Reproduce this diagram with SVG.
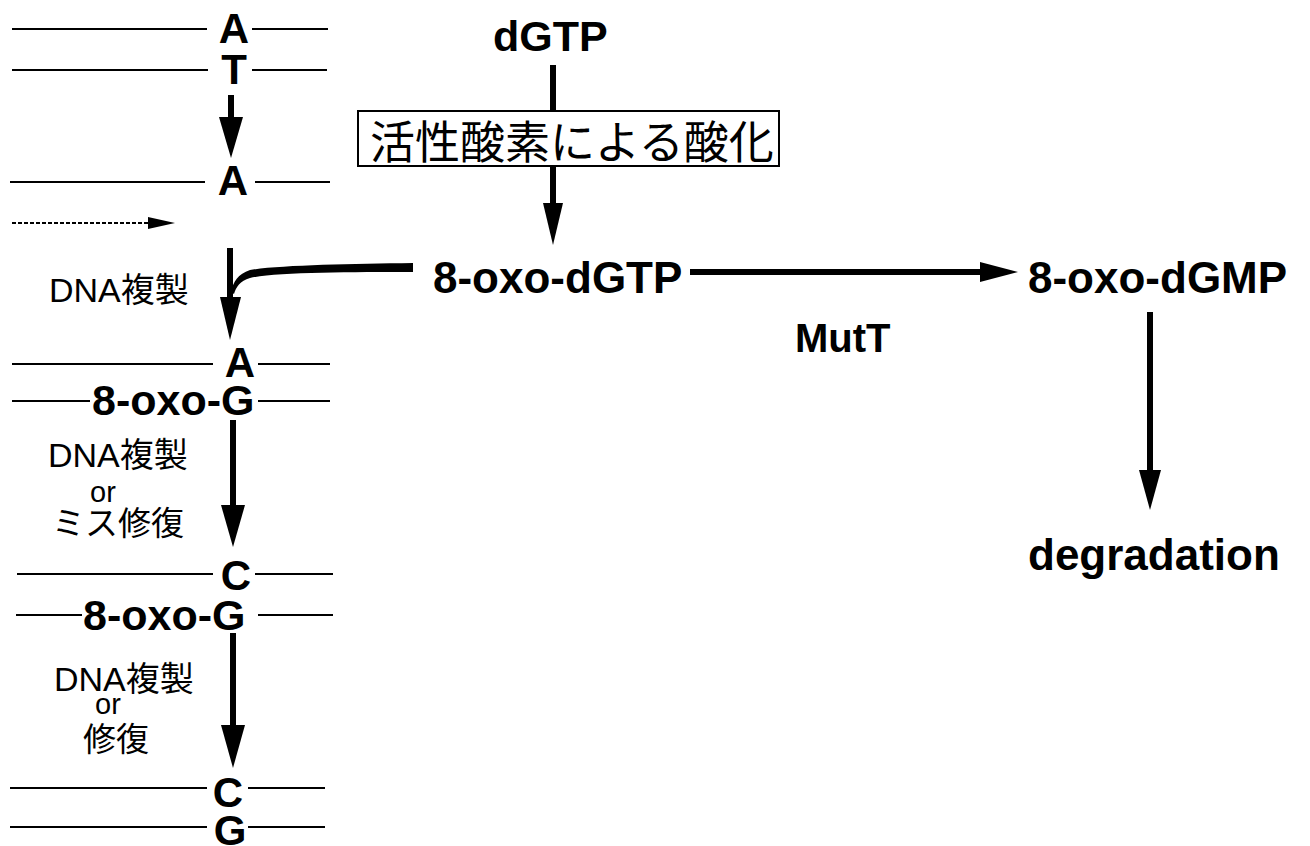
<svg xmlns="http://www.w3.org/2000/svg" width="1310" height="846" viewBox="0 0 1310 846">
<style>
.b{font-family:"Liberation Sans",Arial,"Noto Sans CJK JP",sans-serif;font-weight:bold;fill:#000}
.r{font-family:"Liberation Sans",Arial,"Noto Sans CJK JP",sans-serif;fill:#000}
.j{font-family:"Noto Sans CJK JP","Liberation Sans",sans-serif;fill:#000}
.s{stroke:#000;stroke-width:2;fill:none}
.sh{stroke:#000;stroke-width:6;fill:none}
.hd{fill:#000}
</style>
<rect width="1310" height="846" fill="#fff"/>
<g id="strands" class="s">
<path d="M12 29H207M252 29H328"/>
<path d="M12 70H208M252 70H327"/>
<path d="M10 182H205M255 182H330"/>
<path d="M12 364H213M258 364H330"/>
<path d="M12 401H90M258 401H330"/>
<path d="M17 574H213M255 574H333"/>
<path d="M16 615H82M258 615H333"/>
<path d="M10 788H207M248 788H325"/>
<path d="M10 827H207M248 827H325"/>
</g>
<g id="pair1">
<text class="b" x="234" y="43" font-size="42" text-anchor="middle">A</text>
<text class="b" x="234" y="84" font-size="42" text-anchor="middle">T</text>
</g>
<g id="pair2">
<text class="b" x="233" y="195" font-size="42" text-anchor="middle">A</text>
</g>
<g id="pair3">
<text class="b" x="240" y="377" font-size="42" text-anchor="middle">A</text>
<text class="b" x="92" y="415" font-size="43">8-oxo-G</text>
</g>
<g id="pair4">
<text class="b" x="236" y="590" font-size="42" text-anchor="middle">C</text>
<text class="b" x="83" y="630" font-size="43">8-oxo-G</text>
</g>
<g id="pair5">
<text class="b" x="228" y="807" font-size="42" text-anchor="middle">C</text>
<text class="b" x="230" y="845" font-size="42" text-anchor="middle">G</text>
</g>
<g id="label1">
<text class="r" x="49" y="302" font-size="34">DNA<tspan class="j">複製</tspan></text>
</g>
<g id="label2">
<text class="r" x="48" y="467" font-size="34">DNA<tspan class="j">複製</tspan></text>
<text class="r" x="90" y="502" font-size="29">or</text>
<text class="j" x="52" y="535" font-size="33">ミス修復</text>
</g>
<g id="label3">
<text class="r" x="54" y="691" font-size="34">DNA<tspan class="j">複製</tspan></text>
<text class="r" x="95" y="714" font-size="29">or</text>
<text class="j" x="83" y="751" font-size="33">修復</text>
</g>
<g id="connectors">
<path class="sh" d="M231 95V118" stroke-width="5"/>
<polygon class="hd" points="219,117 243,117 231,158"/>
<path class="sh" d="M230 248V298"/>
<polygon class="hd" points="220,297 241,297 230,340"/>
<path class="sh" d="M233 420V506"/>
<polygon class="hd" points="221,505 245,505 233,547"/>
<path class="sh" d="M233 633V726"/>
<polygon class="hd" points="221,725 245,725 233,768"/>
<path d="M12 223H150" stroke="#000" stroke-width="2" stroke-dasharray="4 2" fill="none"/>
<polygon class="hd" points="148,217 175,223 148,229"/>
<path class="hd" d="M413 263L413 272C350 272 275 272 250 278C240 281 236 287 234 294L231 292C233 282 238 274 250 270C280 265 350 264 413 263Z"/>
<path class="sh" d="M553 65V204"/>
<polygon class="hd" points="543,203 563,203 553,245"/>
<path class="sh" d="M690 272H981"/>
<polygon class="hd" points="980,262 1018,272 980,282"/>
<path class="sh" d="M1150 312V471" stroke-width="7"/>
<polygon class="hd" points="1139,470 1161,470 1150,510"/>
</g>
<g id="oxidation">
<rect x="358" y="111" width="421" height="55" fill="#fff" stroke="#000" stroke-width="2"/>
<text class="j" x="370" y="159" font-size="45">活性酸素による酸化</text>
</g>
<g id="dGTP"><text class="b" x="493" y="51" font-size="43">dGTP</text></g>
<g id="oxo-dGTP"><text class="b" x="433" y="293" font-size="44">8-oxo-dGTP</text></g>
<g id="oxo-dGMP"><text class="b" x="1028" y="293" font-size="44">8-oxo-dGMP</text></g>
<g id="MutT"><text class="b" x="795" y="352" font-size="40">MutT</text></g>
<g id="degradation"><text class="b" x="1028" y="570" font-size="44">degradation</text></g>
</svg>
